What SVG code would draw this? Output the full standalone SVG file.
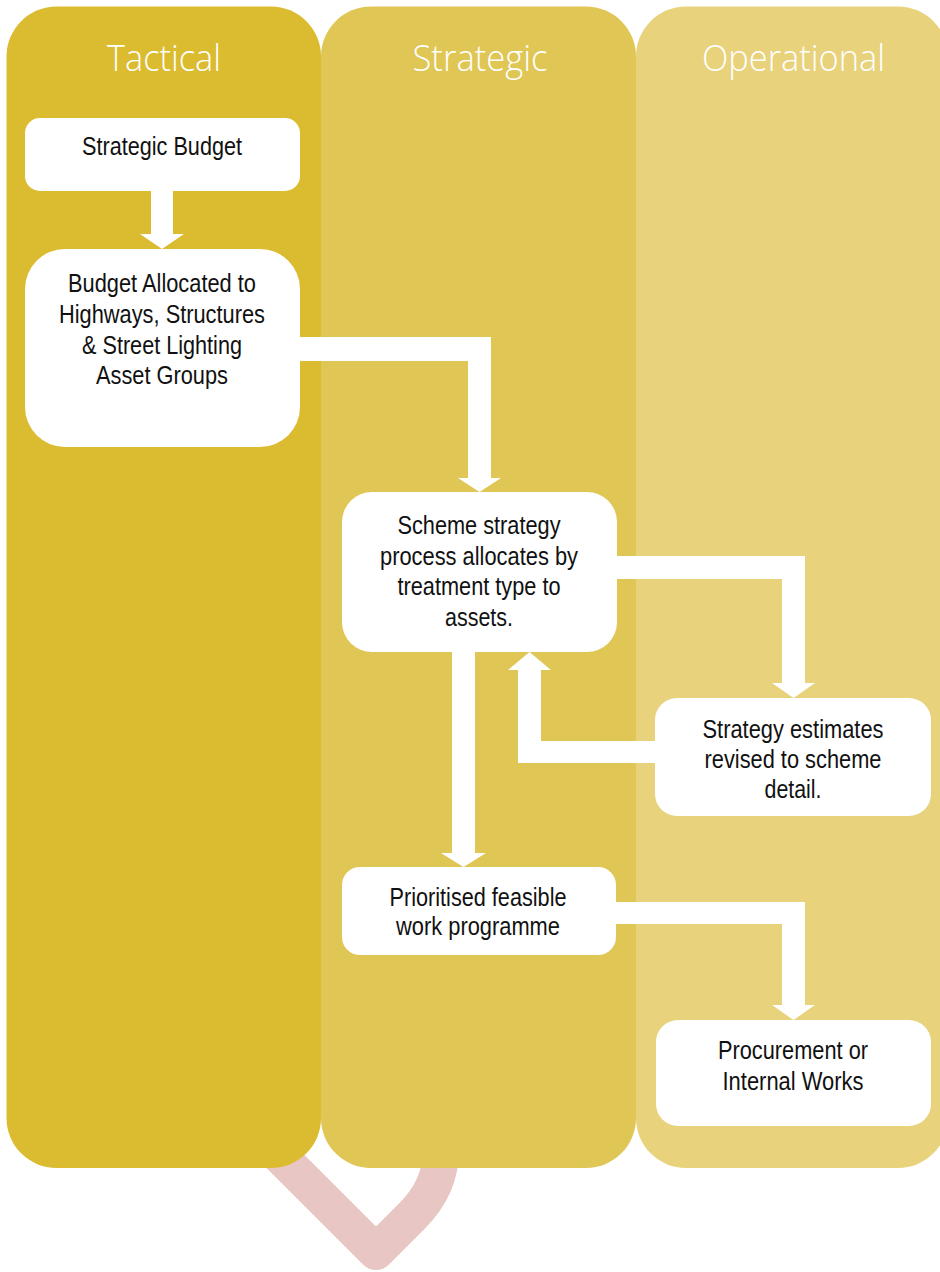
<svg xmlns="http://www.w3.org/2000/svg" width="940" height="1272" viewBox="0 0 940 1272">
<style>
.hdr{font-family:"Open Sans","Liberation Sans",sans-serif;font-weight:300;font-size:37px;fill:#ffffff;text-anchor:middle}
.box{fill:#ffffff}
.lbl{font-family:"Liberation Sans","Arial",sans-serif;font-size:25px;fill:#111111;text-anchor:middle}
.arrow{fill:#ffffff}
</style>
<rect width="940" height="1272" fill="#ffffff"/>
<g id="swirl">
<path d="M 240,1116 L 376,1252 L 412,1216 Q 441,1187 441,1150 L 441,1120" fill="none" stroke="#E8C6C4" stroke-width="36" stroke-linejoin="round"/>
</g>
<g id="lanes">
<g id="lane-operational">
<rect x="636" y="6.5" width="312" height="1161.5" rx="50" fill="#E8D27C"/>
<text class="hdr" x="793.5" y="71" textLength="183" lengthAdjust="spacingAndGlyphs">Operational</text>
</g>
<g id="lane-strategic">
<rect x="321" y="6.5" width="315" height="1161.5" rx="50" fill="#E0C655"/>
<text class="hdr" x="480" y="71" textLength="135" lengthAdjust="spacingAndGlyphs">Strategic</text>
</g>
<g id="lane-tactical">
<rect x="6.5" y="6.5" width="314.5" height="1161.5" rx="50" fill="#DBBB2F"/>
<text class="hdr" x="164" y="71" textLength="114" lengthAdjust="spacingAndGlyphs">Tactical</text>
</g>
</g>
<g id="connectors">
<path class="arrow" d="M151,190 H173 V234 H184 L162,249 L140,234 H151 Z"/>
<path class="arrow" d="M299,337 H491 V478 H501 L479.5,492 L458,478 H468 V361 H299 Z"/>
<path class="arrow" d="M616,556 H805 V683 H815 L793.5,698 L772,683 H782 V579 H616 Z"/>
<path class="arrow" d="M656,741 H541 V670 H551 L529.5,652 L508,670 H518 V763 H656 Z"/>
<path class="arrow" d="M452,651 H475 V853 H486 L463.5,867 L441,853 H452 Z"/>
<path class="arrow" d="M615,902 H805 V1005 H815 L793.5,1020 L772,1005 H782 V924 H615 Z"/>
</g>
<g id="node-strategic-budget">
<rect class="box" x="25" y="118" width="275" height="73" rx="15"/>
<text class="lbl" x="162" y="155" textLength="160" lengthAdjust="spacingAndGlyphs">Strategic Budget</text>
</g>
<g id="node-budget-allocated">
<rect class="box" x="25" y="249" width="275" height="198" rx="40"/>
<text class="lbl" x="162" y="292" textLength="188" lengthAdjust="spacingAndGlyphs">Budget Allocated to</text>
<text class="lbl" x="162" y="323" textLength="206" lengthAdjust="spacingAndGlyphs">Highways, Structures</text>
<text class="lbl" x="162" y="354" textLength="160" lengthAdjust="spacingAndGlyphs">&amp; Street Lighting</text>
<text class="lbl" x="162" y="384" textLength="132" lengthAdjust="spacingAndGlyphs">Asset Groups</text>
</g>
<g id="node-scheme-strategy">
<rect class="box" x="342" y="492" width="275" height="160" rx="30"/>
<text class="lbl" x="479" y="534" textLength="163" lengthAdjust="spacingAndGlyphs">Scheme strategy</text>
<text class="lbl" x="479" y="565" textLength="198" lengthAdjust="spacingAndGlyphs">process allocates by</text>
<text class="lbl" x="479" y="595" textLength="163" lengthAdjust="spacingAndGlyphs">treatment type to</text>
<text class="lbl" x="479" y="626" textLength="68" lengthAdjust="spacingAndGlyphs">assets.</text>
</g>
<g id="node-strategy-estimates">
<rect class="box" x="655" y="698" width="276" height="118" rx="22"/>
<text class="lbl" x="793" y="738" textLength="181" lengthAdjust="spacingAndGlyphs">Strategy estimates</text>
<text class="lbl" x="793" y="768" textLength="177" lengthAdjust="spacingAndGlyphs">revised to scheme</text>
<text class="lbl" x="793" y="798" textLength="57" lengthAdjust="spacingAndGlyphs">detail.</text>
</g>
<g id="node-prioritised">
<rect class="box" x="342" y="867" width="274" height="88" rx="18"/>
<text class="lbl" x="478" y="906" textLength="177" lengthAdjust="spacingAndGlyphs">Prioritised feasible</text>
<text class="lbl" x="478" y="935" textLength="164" lengthAdjust="spacingAndGlyphs">work programme</text>
</g>
<g id="node-procurement">
<rect class="box" x="656" y="1020" width="275" height="106" rx="22"/>
<text class="lbl" x="793" y="1059" textLength="150" lengthAdjust="spacingAndGlyphs">Procurement or</text>
<text class="lbl" x="793" y="1090" textLength="141" lengthAdjust="spacingAndGlyphs">Internal Works</text>
</g>
</svg>
